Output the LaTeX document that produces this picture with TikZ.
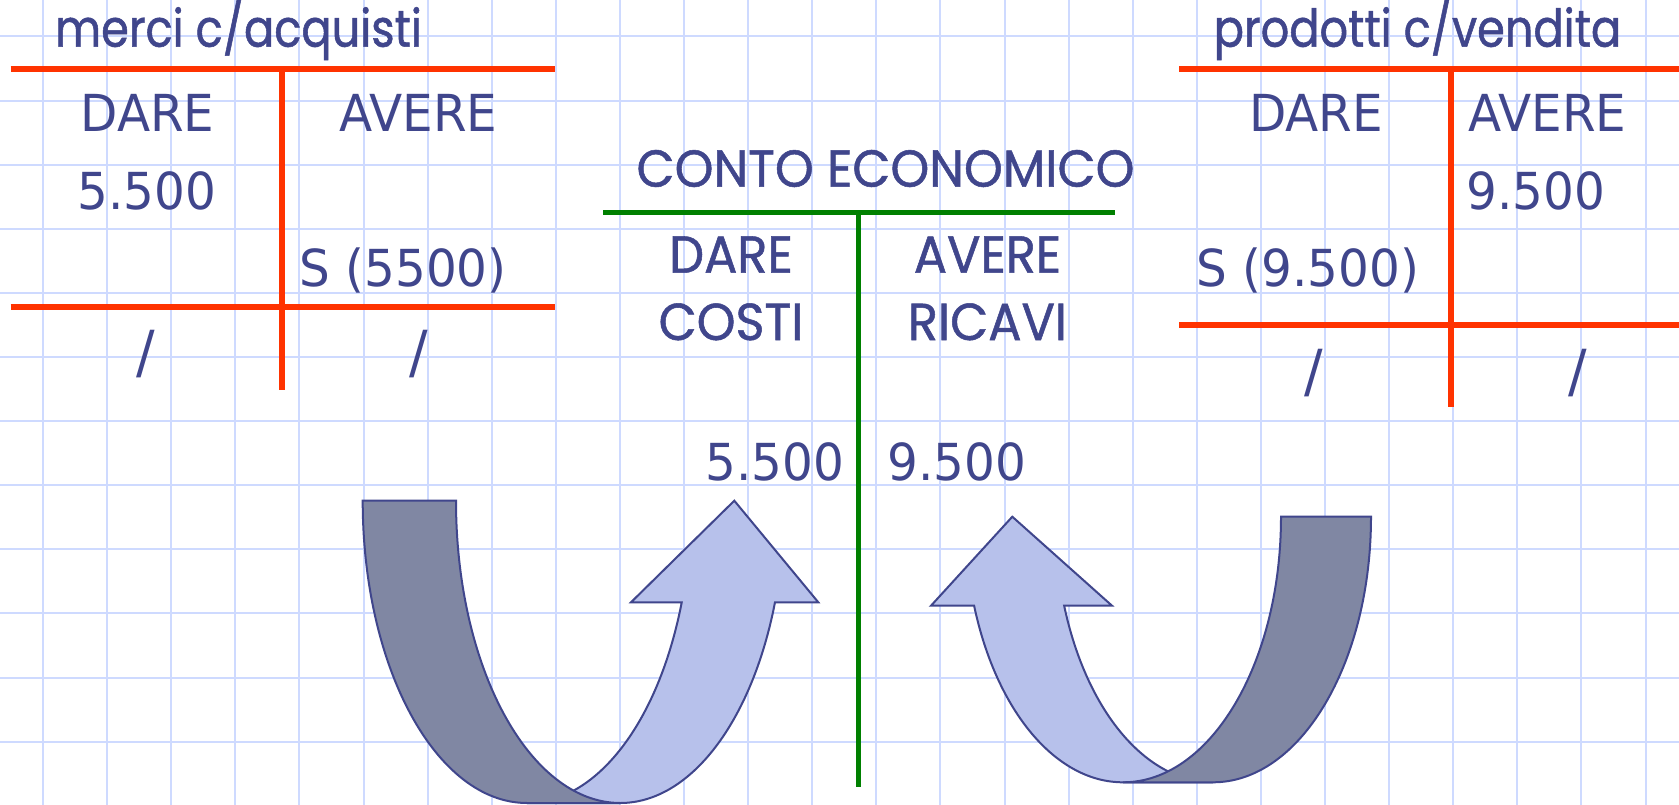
\documentclass[tikz,border=0pt]{standalone}
\usepackage{fontspec}
\usepackage[]{xcolor}
\usepackage{tikz}
\usetikzlibrary{positioning, calc}
\newfontfamily\tahomafont[FakeStretch=0.95]{DejaVu Sans}
\newfontfamily\comicfont[FakeStretch=0.95, FakeBold=1]{Poppins}
\newfontfamily\comictitlefont[FakeStretch=0.86, FakeBold=1]{Poppins}
\definecolor{inkblue}{RGB}{64,70,140}
\definecolor{gridblue}{RGB}{206,218,255}
\definecolor{tred}{RGB}{255,51,0}
\definecolor{tgreen}{RGB}{0,128,0}
\definecolor{backfill}{RGB}{128,135,163}
\definecolor{frontfill}{RGB}{183,193,235}
\tikzstyle{entry} = [inner sep=0pt, anchor=base, text=inkblue, font=\tahomafont\fontsize{51}{60}\selectfont]
\tikzstyle{slashentry} = [inner sep=0pt, anchor=base, text=inkblue, font=\tahomafont\fontsize{58}{60}\selectfont]
\tikzstyle{handentry} = [inner sep=0pt, anchor=base, text=inkblue, font=\comicfont\fontsize{52}{60}\selectfont]
\tikzstyle{handtitle} = [inner sep=0pt, anchor=base, text=inkblue, font=\comictitlefont\fontsize{52}{60}\selectfont]
\tikzstyle{tline} = [line width=6.5pt, tred]
\tikzstyle{celine} = [line width=5pt, tgreen]
\tikzstyle{band} = [draw=inkblue, line width=2pt, fill=backfill]
\tikzstyle{turnarrow} = [draw=inkblue, line width=2pt, fill=frontfill]

\begin{document}
\begin{tikzpicture}[x=1pt, y=-1pt]
	\useasboundingbox (0,0) rectangle (1679,805);
	\fill[white] (0,0) rectangle (1679,805);
	\foreach \gx in {0,...,25}
		\draw[gridblue, line width=2pt] ({43+64.1*\gx},0) -- ({43+64.1*\gx},805);
	\foreach \gy in {0,...,12}
		\draw[gridblue, line width=2pt] (0,{36.5+64.1*\gy}) -- (1679,{36.5+64.1*\gy});
	
	\draw[turnarrow] (734.3,500.7) -- (818.3,602.3) -- (775,602.3)
		arc[start angle=-19.64, end angle=-90, x radius=164.3pt, y radius=302.3pt]
		-- (527,803)
		arc[start angle=-90, end angle=-19.64, x radius=164.3pt, y radius=302.3pt]
		-- (631,602.3) -- cycle;
	\draw[band] (362.7,500.7)
		arc[start angle=180, end angle=270, x radius=164.3pt, y radius=302.3pt]
		-- (620.3,803)
		arc[start angle=270, end angle=180, x radius=164.3pt, y radius=302.3pt] -- cycle;
	
	\draw[turnarrow] (1012.3,516.7) -- (931,605.7) -- (974.1,605.7)
		arc[start angle=-160.42, end angle=-90, x radius=158pt, y radius=265.6pt]
		-- (1213,782.3)
		arc[start angle=-90, end angle=-160.42, x radius=158pt, y radius=265.6pt]
		-- (1112,605.7) -- cycle;
	\draw[band] (1371,516.7)
		arc[start angle=0, end angle=-90, x radius=158pt, y radius=265.6pt]
		-- (1123,782.3)
		arc[start angle=-90, end angle=0, x radius=158pt, y radius=265.6pt] -- cycle;
	
	\draw[tline] (10.7,69) -- (555,69);
	\draw[tline] (10.7,307) -- (555,307);
	\draw[tline] (282,69) -- (282,390);
	
	\draw[tline] (1179,69) -- (1679,69);
	\draw[tline] (1179,325) -- (1679,325);
	\draw[tline] (1451,69) -- (1451,407);
	
	\draw[celine] (603,212.7) -- (1115,212.7);
	\draw[celine] (858.6,212.7) -- (858.6,787);
	
	\node[handtitle] (acqtitle) at (238.5,46.7) {merci c/acquisti};
	\node[entry] (acqdare) at (147.5,131.7) {DARE};
	\node[entry] (acqavere) at (418.5,131.7) {AVERE};
	\node[entry] (acqdebit) at (147,210) {5.500};
	\node[entry] (acqbalance) at (403,287) {S (5500)};
	\node[slashentry] (acqslashl) at (145.5,372.6) {/};
	\node[slashentry] (acqslashr) at (419,372.6) {/};
	
	\node[handentry] (cetitle) at (885.5,186.7) {CONTO ECONOMICO};
	\node[handentry] (cedare) at (731,272.7) {DARE};
	\node[handentry] (ceavere) at (987.5,272.7) {AVERE};
	\node[handentry] (cecosti) at (731,340) {COSTI};
	\node[handentry] (cericavi) at (987.5,340) {RICAVI};
	\node[entry] (cecost) at (775,480) {5.500};
	\node[entry] (cerevenue) at (957,480) {9.500};
	
	\node[handtitle] (vendtitle) at (1417.5,46.7) {prodotti c/vendita};
	\node[entry] (venddare) at (1316,132) {DARE};
	\node[entry] (vendavere) at (1547.5,132) {AVERE};
	\node[entry] (vendcredit) at (1536,210) {9.500};
	\node[entry] (vendbalance) at (1308,287) {S (9.500)};
	\node[slashentry] (vendslashl) at (1314,391.3) {/};
	\node[slashentry] (vendslashr) at (1578,391.3) {/};
\end{tikzpicture}
\end{document}
